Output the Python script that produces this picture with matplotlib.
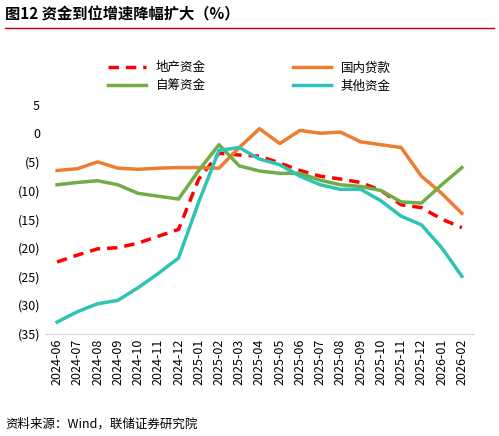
import matplotlib.pyplot as plt
import matplotlib.ticker as mticker

plt.rcParams['font.family'] = ['Noto Sans CJK SC', 'DejaVu Sans']

months = ['2024-06', '2024-07', '2024-08', '2024-09', '2024-10', '2024-11', '2024-12',
          '2025-01', '2025-02', '2025-03', '2025-04', '2025-05', '2025-06', '2025-07',
          '2025-08', '2025-09', '2025-10', '2025-11', '2025-12', '2026-01', '2026-02']
estate = [-22.5, -21.3, -20.2, -20, -19.2, -18, -16.8, -8, -3.5, -3.8, -4, -5.2, -6.5,
          -7.5, -8, -8.6, -10, -12.5, -13, -15, -16.5]
loans = [-6.5, -6.2, -5, -6.1, -6.3, -6.1, -6, -6, -6.1, -2.5, 0.8, -1.8, 0.5, 0, 0.2,
         -1.5, -2, -2.5, -7.5, -10.5, -14]
selfraised = [-9, -8.6, -8.3, -9, -10.5, -11, -11.5, -6.5, -2, -5.7, -6.6, -7, -7, -8.2,
              -9, -9.3, -10, -12, -12.2, -9, -6]
other = [-33, -31.2, -29.8, -29.2, -27, -24.5, -21.8, -12, -3, -2.5, -4.5, -5.5, -7.5,
         -9, -9.8, -9.8, -11.8, -14.5, -16, -20, -25]

fig = plt.figure(figsize=(4.99, 4.36), dpi=100)
ax = fig.add_axes([0.09, 0.235, 0.86, 0.525])
x = range(len(months))
l1, = ax.plot(x, estate, color='#ff0000', lw=2.5, ls=(0, (3, 2)), label='地产资金')
l2, = ax.plot(x, loans, color='#ed7d31', lw=2.5, label='国内贷款')
l3, = ax.plot(x, selfraised, color='#70ad47', lw=2.5, label='自筹资金')
l4, = ax.plot(x, other, color='#2ec4b4', lw=2.5, label='其他资金')

ax.set_ylim(-35, 5)
ax.set_yticks(range(-35, 6, 5))
ax.yaxis.set_major_formatter(mticker.FuncFormatter(
    lambda v, p: f'({abs(int(v))})' if v < 0 else f'{int(v)}'))
ax.set_xlim(-0.6, len(months) - 0.4)
ax.set_xticks(list(x))
ax.set_xticklabels(months, rotation=90)
ax.tick_params(labelsize=9, length=0)
for s in ['top', 'right', 'left']:
    ax.spines[s].set_visible(False)
ax.spines['bottom'].set_color('#d9d9d9')

# row-wise order like the original
fig.legend([l1, l3, l2, l4], ['地产资金', '自筹资金', '国内贷款', '其他资金'],
           loc='upper center', bbox_to_anchor=(0.5, 0.885), ncol=2, frameon=False,
           fontsize=9, handlelength=3, columnspacing=7, labelspacing=0.4)

fig.text(0.01, 0.955, '图12 资金到位增速降幅扩大（%）', fontsize=11, fontweight='bold')
fig.add_artist(plt.Line2D([0.01, 0.99], [0.935, 0.935], color='#c00000', lw=1))
fig.text(0.01, 0.02, '资料来源：Wind，联储证券研究院', fontsize=9)
fig.savefig('out.png')
